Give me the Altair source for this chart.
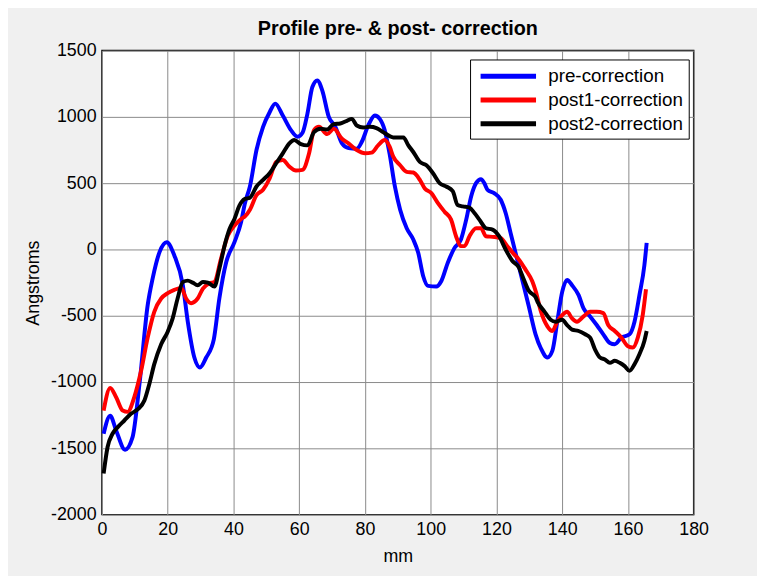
import altair as alt
import pandas as pd

# ---- data ----
series_names = ["pre-correction", "post1-correction", "post2-correction"]
series_colors = ["#0000ff", "#ff0000", "#000000"]

pre_mm = [0.5, 2.5, 4.3, 7.0, 9.3, 11.4, 13.9, 15.4, 17.5, 19.7, 22.0, 24.6, 26.1, 28.1, 29.8,
          31.7, 34.0, 35.7, 37.8, 40.3, 42.3, 43.5, 45.0, 47.0, 49.0, 51.0, 52.7, 55.0, 57.5,
          59.5, 61.0, 62.5, 64.0, 65.5, 67.0, 69.0, 71.0, 73.0, 75.0, 77.5, 79.0, 81.0, 83.0,
          84.5, 86.0, 87.5, 89.1, 90.7, 92.7, 94.7, 96.2, 97.7, 99.2, 101.7, 103.2, 105.2,
          107.2, 109.2, 110.8, 112.3, 113.8, 115.3, 116.3, 117.3, 119.3, 121.3, 122.8, 124.3,
          125.8, 127.8, 129.8, 131.9, 133.5, 135.5, 137.0, 138.5, 140.0, 141.5, 143.0, 145.0,
          146.5, 148.5, 150.5, 152.5, 154.5, 156.0, 158.0, 160.5, 162.0, 163.5, 165.0, 165.7]
pre_val = [-1390, -1255, -1365, -1510, -1415, -1015, -420, -220, -20, 55, -45, -270, -545, -815, -890,
           -815, -680, -370, -95, 55, 205, 350, 475, 750, 925, 1035, 1100, 1010, 900,
           850, 880, 1025, 1225, 1275, 1200, 1000, 925, 800, 765, 760, 810, 935, 1010,
           985, 900, 720, 475, 300, 160, 75, -25, -200, -275, -280, -240, -100,
           10, 75, 225, 400, 500, 530, 500, 450, 425, 375, 275, 125,
           -25, -225, -425, -640, -745, -815, -765, -545, -320, -230, -270, -345,
           -445, -505, -570, -640, -705, -715, -665, -640, -545, -345, -120, 50]

post1_mm = [0.5, 2.5, 4.3, 6.3, 7.8, 9.8, 11.9, 13.9, 15.9, 18.0, 20.0, 22.0, 24.1, 25.6, 27.1,
            29.1, 30.7, 32.7, 34.2, 36.2, 38.3, 40.3, 42.3, 43.5, 45.0, 47.0, 49.0, 51.0, 53.0,
            55.0, 57.0, 59.0, 61.0, 63.0, 64.5, 66.0, 68.5, 70.5, 73.0, 75.0, 77.5, 80.0, 82.0,
            84.0, 86.0, 87.5, 88.6, 90.7, 92.7, 94.7, 96.7, 98.2, 100.2, 102.2, 104.2, 106.2,
            107.7, 109.2, 110.3, 111.8, 113.8, 115.3, 116.8, 118.8, 121.3, 123.3, 125.3, 126.8,
            128.8, 130.9, 132.0, 133.5, 135.5, 137.0, 138.5, 140.0, 141.5, 143.0, 144.5, 146.5,
            148.5, 150.5, 152.5, 154.0, 156.0, 158.0, 160.0, 161.5, 163.0, 164.5, 165.5]
post1_val = [-1215, -1045, -1115, -1215, -1225, -1115, -915, -665, -470, -370, -330, -305, -290, -370, -405,
             -370, -295, -255, -245, -70, 105, 180, 230, 250, 300, 410, 450, 535, 660,
             675, 625, 595, 600, 725, 900, 925, 870, 910, 835, 800, 750, 725, 730,
             785, 825, 775, 700, 635, 585, 580, 525, 460, 425, 350, 285, 225,
             100, 25, 25, 100, 160, 160, 100, 95, 85, 25, -35, -75,
             -150, -240, -320, -465, -580, -615, -545, -495, -470, -520, -545, -505,
             -470, -470, -480, -570, -615, -665, -730, -740, -665, -495, -300]

post2_mm = [0.5, 1.7, 3.2, 4.8, 6.8, 8.8, 10.9, 12.9, 14.4, 15.9, 18.0, 20.0, 21.5, 23.0, 24.6,
            26.1, 27.6, 29.1, 30.7, 32.2, 34.2, 35.7, 37.3, 38.8, 40.3, 41.8, 43.4, 45.0, 47.0,
            49.0, 51.0, 53.0, 55.0, 57.0, 58.5, 60.5, 62.5, 64.5, 66.5, 68.5, 70.5, 72.5, 74.5,
            76.0, 77.5, 79.5, 81.5, 83.5, 85.5, 87.5, 88.6, 91.7, 93.2, 94.7, 96.7, 98.7, 100.7,
            102.7, 104.7, 106.7, 108.2, 109.7, 111.8, 113.3, 114.8, 116.8, 118.8, 120.8, 122.8,
            124.8, 126.8, 128.3, 129.8, 131.9, 132.5, 134.5, 136.5, 138.0, 140.0, 141.5, 143.0,
            145.0, 147.0, 148.5, 150.0, 151.5, 153.0, 154.5, 156.0, 157.5, 159.0, 160.5, 162.0,
            163.5, 165.0, 165.7]
post2_val = [-1690, -1490, -1390, -1340, -1290, -1240, -1205, -1140, -1015, -865, -715, -620, -520, -370, -245,
             -235, -250, -270, -245, -250, -280, -145, 30, 155, 230, 330, 380, 390, 475,
             525, 575, 650, 725, 800, 825, 795, 785, 885, 910, 905, 945, 950, 970,
             985, 935, 920, 925, 915, 885, 855, 845, 845, 785, 735, 660, 635, 575,
             500, 475, 440, 335, 325, 315, 275, 225, 160, 150, 100, 0,
             -85, -135, -225, -310, -360, -395, -465, -530, -545, -530, -570, -605,
             -615, -640, -665, -755, -815, -830, -855, -840, -855, -880, -915, -865,
             -790, -690, -615]

x_ticks = list(range(0, 181, 20))
y_ticks = list(range(-2000, 1501, 500))

frames = []
for name, xs, ys in zip(series_names, [pre_mm, post1_mm, post2_mm], [pre_val, post1_val, post2_val]):
    frames.append(pd.DataFrame({"mm": xs, "val": ys, "series": name, "idx": list(range(len(xs)))}))
df = pd.concat(frames, ignore_index=True)

FONT = "Liberation Sans"

color = alt.Color(
    "series:N",
    scale=alt.Scale(domain=series_names, range=series_colors),
    legend=alt.Legend(
        title=None, orient="none", legendX=372, legendY=9,
        symbolType="M-0.68,0L5.31,0", symbolSize=350, symbolStrokeWidth=5,
        labelFont=FONT, labelFontSize=19, labelColor="black", labelOffset=50,
        labelLimit=300, padding=5, rowPadding=2,
        fillColor="white", strokeColor="black", cornerRadius=0,
    ),
)
x = alt.X("mm:Q", scale=alt.Scale(domain=[0, 180], nice=False),
          axis=alt.Axis(values=x_ticks, title="mm", labelPadding=6, titlePadding=9,
                        labelFlush=False, labelExpr="'' + datum.value"))
y = alt.Y("val:Q", scale=alt.Scale(domain=[-2000, 1500], nice=False),
          axis=alt.Axis(values=y_ticks, title="Angstroms", labelPadding=6, titlePadding=8,
                        labelFlush=False, labelExpr="'' + datum.value"))

layers = [
    alt.Chart(df).transform_filter(alt.datum.series == n)
    .mark_line(strokeWidth=4, interpolate="monotone")
    .encode(x=x, y=y, color=color, order="idx:Q")
    for n in series_names
]

chart = (
    alt.layer(*layers)
    .properties(
        width=598, height=469,
        title=alt.TitleParams("Profile pre- & post- correction", font=FONT, fontSize=20,
                              fontWeight="bold", color="black", offset=3, anchor="middle"),
        background="#f0f0f0",
        padding={"left": 95, "top": 40, "right": 64, "bottom": 59},
        autosize=alt.AutoSizeParams(type="none"),
    )
    .configure_view(fill="white", stroke="black", strokeWidth=1.5)
    .configure_axis(
        labelFont=FONT, labelFontSize=18, labelColor="black",
        titleFont=FONT, titleFontSize=18, titleFontWeight="normal", titleColor="black",
        grid=True, gridColor="#8a8a8a", gridWidth=1, domain=False, ticks=False,
    )
)

chart.save("out.html", embed_options={"renderer": "svg", "actions": False})
